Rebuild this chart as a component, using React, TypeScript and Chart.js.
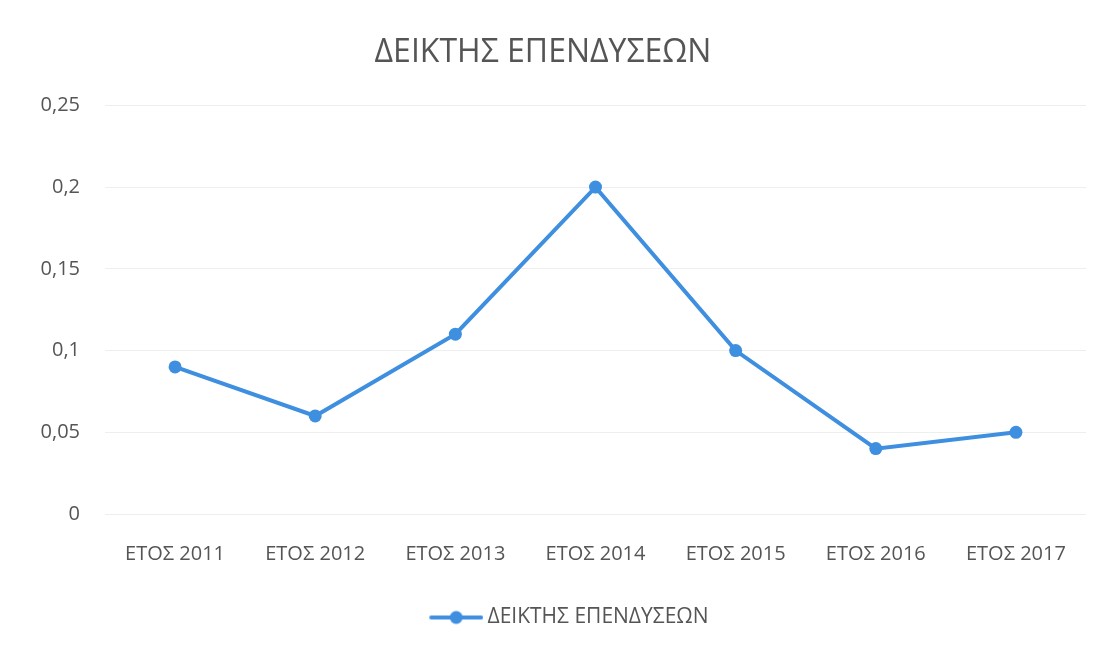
import React, { useEffect, useRef } from "react";
import { Chart, registerables } from "chart.js";

Chart.register(...registerables);

const TITLE = "ΔΕΙΚΤΗΣ ΕΠΕΝΔΥΣΕΩΝ";
const SERIES_NAME = "ΔΕΙΚΤΗΣ ΕΠΕΝΔΥΣΕΩΝ";
const categories = ["ΕΤΟΣ 2011", "ΕΤΟΣ 2012", "ΕΤΟΣ 2013", "ΕΤΟΣ 2014", "ΕΤΟΣ 2015", "ΕΤΟΣ 2016", "ΕΤΟΣ 2017"];
const values = [0.09, 0.06, 0.11, 0.2, 0.1, 0.04, 0.05];
const yMin = 0;
const yMax = 0.25;
const yStep = 0.05;

const LINE_COLOR = "#3f8fe0";
const TEXT_COLOR = "#555555";
const FONT = "'Open Sans', sans-serif";

function makeLegendIcon(): HTMLCanvasElement {
  const c = document.createElement("canvas");
  c.width = 112;
  c.height = 16;
  const ctx = c.getContext("2d")!;
  ctx.strokeStyle = LINE_COLOR;
  ctx.lineWidth = 4;
  ctx.lineCap = "round";
  ctx.beginPath();
  ctx.moveTo(60, 8);
  ctx.lineTo(110, 8);
  ctx.stroke();
  ctx.fillStyle = LINE_COLOR;
  ctx.beginPath();
  ctx.arc(85, 8, 6.5, 0, Math.PI * 2);
  ctx.fill();
  return c;
}

export default function App() {
  const ref = useRef<HTMLCanvasElement | null>(null);
  useEffect(() => {
    if (!ref.current) return;
    const icon = makeLegendIcon();
    const chart = new Chart(ref.current, {
      type: "line",
      data: {
        labels: categories,
        datasets: [
          {
            label: SERIES_NAME,
            data: values,
            borderColor: LINE_COLOR,
            backgroundColor: LINE_COLOR,
            borderWidth: 4,
            pointRadius: 6.5,
            pointHoverRadius: 6.5,
            pointBackgroundColor: LINE_COLOR,
            pointBorderWidth: 0,
            pointStyle: "circle",
            tension: 0,
          },
        ],
      },
      options: {
        animation: false,
        responsive: false,
        maintainAspectRatio: false,
        layout: { padding: { left: 0, right: 15, top: 0, bottom: 11 } },
        plugins: {
          title: {
            display: true,
            text: TITLE,
            color: TEXT_COLOR,
            font: { family: FONT, size: 32, weight: "normal" },
            padding: { top: 34, bottom: 33 },
          },
          legend: {
            display: true,
            position: "bottom",
            labels: {
              color: TEXT_COLOR,
              font: { family: FONT, size: 21 },
              usePointStyle: true,
              pointStyleWidth: 99.5,
              padding: 13,
              generateLabels: () => [
                {
                  text: SERIES_NAME,
                  fillStyle: LINE_COLOR,
                  strokeStyle: LINE_COLOR,
                  lineWidth: 0,
                  pointStyle: icon,
                  datasetIndex: 0,
                  hidden: false,
                  fontColor: TEXT_COLOR,
                } as any,
              ],
            },
          },
          tooltip: { enabled: false },
        },
        scales: {
          x: {
            offset: true,
            grid: { display: false, drawTicks: false },
            border: { display: false },
            ticks: {
              color: TEXT_COLOR,
              font: { family: FONT, size: 20 },
              padding: 28,
              maxRotation: 0,
              autoSkip: false,
            },
          },
          y: {
            min: yMin,
            max: yMax,
            grid: { color: "#eeeeee", lineWidth: 1, drawTicks: false },
            border: { display: false },
            ticks: {
              stepSize: yStep,
              color: TEXT_COLOR,
              font: { family: FONT, size: 20 },
              padding: 25,
              callback: (v: any) => Number(Number(v).toFixed(2)).toString().replace(".", ","),
            },
            afterFit: (scale: any) => {
              scale.width = 105;
            },
          },
        },
      },
    });
    return () => chart.destroy();
  }, []);
  return (
    <div style={{ position: "fixed", left: 0, top: 0, width: 1101, height: 649, background: "#fff" }}>
      <canvas ref={ref} width={1101} height={649} style={{ display: "block" }} />
    </div>
  );
}
